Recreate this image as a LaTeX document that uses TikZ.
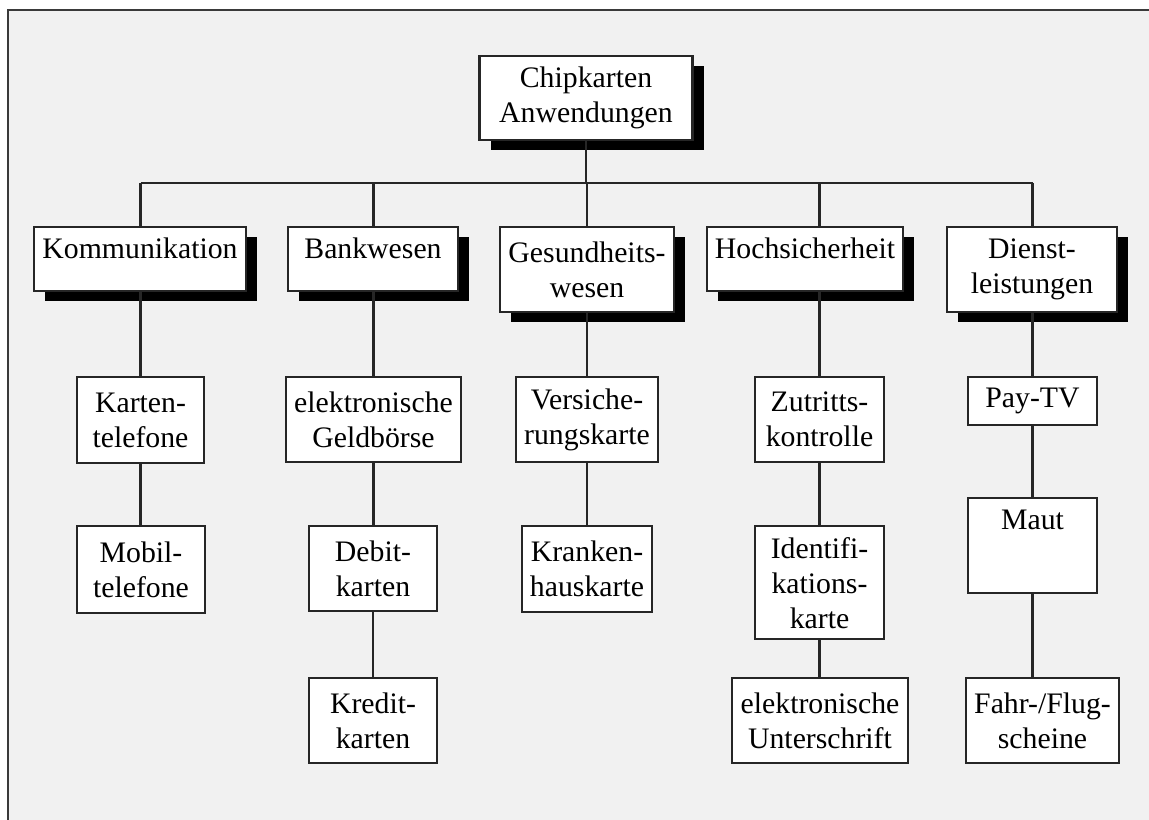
\documentclass[tikz,border=0pt]{standalone}
\usepackage{fontspec}
\setmainfont{Liberation Serif}
\usepackage{tikz}
\usetikzlibrary{
  calc,
  shadows
}
\definecolor{bggray}{HTML}{F1F1F1}
\definecolor{framegray}{HTML}{3A3A3A}
\tikzset{
  line cap=round,
  line join=round,
  every picture/.style={line width=1.8pt},
  box/.style={draw=black!85, fill=white, rectangle, align=center, anchor=north,
    inner xsep=0.25cm, inner ysep=0.33cm,
    font=\fontsize{25.4}{29.9}\selectfont},
  topbox/.style={box, text height=0.6cm, text depth=#1},
  shadowbox/.style={drop shadow={shadow xshift=0.33cm, shadow yshift=-0.3cm, fill=black, opacity=1}},
  link/.style={draw=black!85}
}

\begin{document}
\begin{tikzpicture}[x=0.03cm, y=-0.03cm]

\useasboundingbox (0,0) rectangle (1149,820);

% Hintergrund und Rahmen
\fill[bggray] (8,10) rectangle (1149,820);
\draw[framegray, line width=2pt] (8,820) -- (8,10) -- (1149,10);

% Wurzel
\node[box, shadowbox, minimum width=6.39cm, minimum height=2.49cm] (root) at (586,55) {Chipkarten\\Anwendungen};

% erste Ebene
\node[topbox=0.66cm, shadowbox, minimum width=6.36cm] (komm) at (140,226) {Kommunikation};
\node[topbox=0.66cm, shadowbox, minimum width=5.1cm] (bank) at (373,226) {Bankwesen};
\node[box, shadowbox, minimum width=5.1cm, minimum height=2.55cm] (gesund) at (587,226) {Gesundheits-\\wesen};
\node[topbox=0.66cm, shadowbox, minimum width=5.61cm] (hoch) at (805,226) {Hochsicherheit};
\node[box, shadowbox, minimum width=5.1cm, minimum height=2.55cm] (dienst) at (1032,226) {Dienst-\\leistungen};

% zweite Ebene
\node[box, minimum width=3.81cm, minimum height=2.58cm] (karten) at (140.5,376) {Karten-\\telefone};
\node[box, minimum width=5.19cm, minimum height=2.55cm] (geld) at (373.5,376) {elektronische\\Geldbörse};
\node[box, minimum width=3.9cm, minimum height=2.55cm] (vers) at (587,376) {Versiche-\\rungskarte};
\node[box, minimum width=3.87cm, minimum height=2.55cm] (zutritt) at (819.5,376) {Zutritts-\\kontrolle};
\node[box, minimum width=3.87cm, minimum height=1.44cm] (paytv) at (1032.5,376) {Pay-TV};

% dritte Ebene
\node[box, minimum width=3.84cm, minimum height=2.61cm] (mobil) at (141,525) {Mobil-\\telefone};
\node[box, minimum width=3.84cm, minimum height=2.55cm] (debit) at (373,525) {Debit-\\karten};
\node[box, minimum width=3.9cm, minimum height=2.58cm] (kranken) at (587,525) {Kranken-\\hauskarte};
\node[box, minimum width=3.87cm, minimum height=3.24cm] (ident) at (819.5,525) {Identifi-\\kations-\\karte};
\node[topbox=1.59cm, minimum width=3.87cm] (maut) at (1032.5,497) {Maut};

% vierte Ebene
\node[box, minimum width=3.84cm, minimum height=2.55cm] (kredit) at (373,677) {Kredit-\\karten};
\node[box, minimum width=5.1cm, minimum height=2.55cm] (unter) at (820,677) {elektronische\\Unterschrift};
\node[box, minimum width=4.47cm, minimum height=2.55cm] (fahr) at (1042.5,677) {Fahr-/Flug-\\scheine};

% Verbindungen
\coordinate (bar) at (0,183);
\draw[link] (root.south) -- (root.south |- bar);
\draw[link] (karten.north |- bar) -- (paytv.north |- bar);
\foreach \a/\b in {komm/karten, bank/geld, gesund/vers, hoch/zutritt, dienst/paytv}
  {
  \draw[link] (\b.north |- bar) -- (\b.north |- \a.north);
  \draw[link] (\b.north) -- (\b.north |- \a.south);
  }
\foreach \a/\b in {karten/mobil, geld/debit, debit/kredit, vers/kranken, zutritt/ident, ident/unter, paytv/maut, maut/fahr}
  \draw[link] (\a.south) -- (\a.south |- \b.north);

\end{tikzpicture}
\end{document}
